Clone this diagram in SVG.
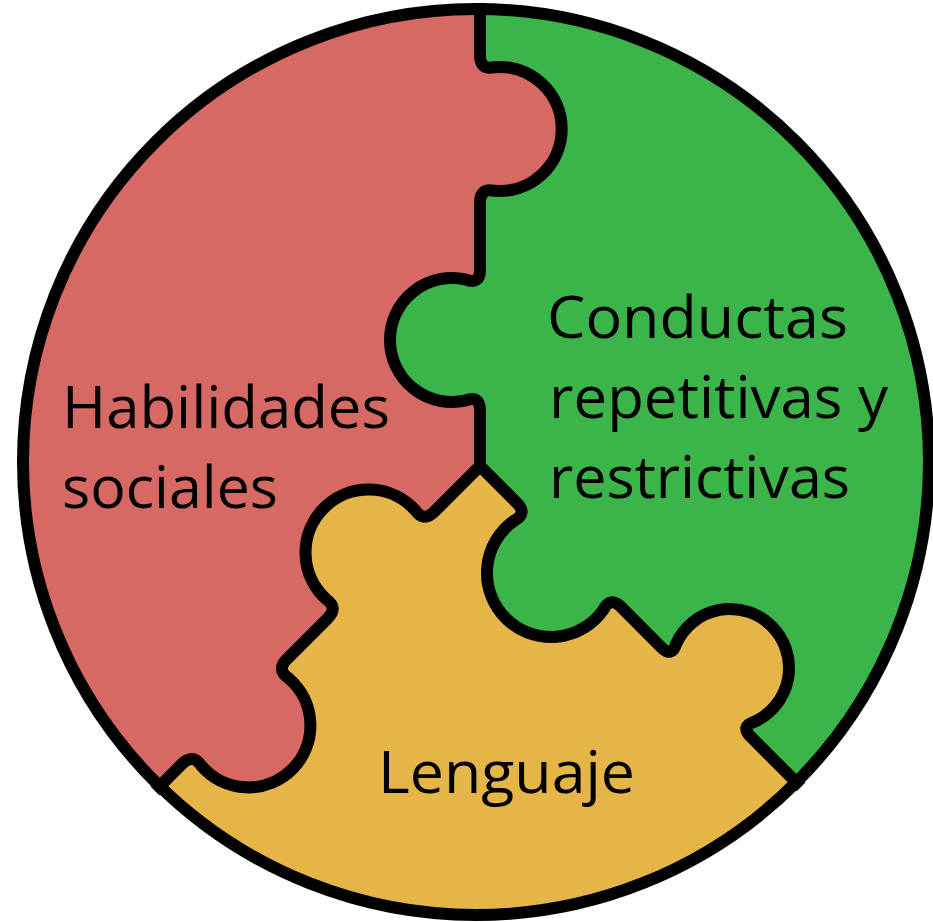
<svg xmlns="http://www.w3.org/2000/svg" width="933" height="922" viewBox="0 0 933 922">
<style>
.lbl{font-family:"Open Sans","Noto Sans","DejaVu Sans",sans-serif;font-size:59px;fill:#000}
.edge{fill:none;stroke:#000;stroke-width:12;stroke-linejoin:round;stroke-linecap:butt}
</style>
<rect width="933" height="922" fill="#fff"/>
<g id="lenguaje">
<path fill="#E6B548" d="M480,466 L434.2,511.8 Q423.6,522.4 415.1,510.1 A63 63 0 1 0 326.1,599.1 Q338.4,607.6 327.8,618.2 L286.8,659.2 Q276.2,669.8 288.6,678.2 A62 62 0 1 1 201.2,765.6 Q192.8,753.2 182.2,763.8 L159.7,786.3 A453 453 0 0 0 796.3,782.3 L750.8,736.8 Q740.2,726.2 754.4,721.7 A59 59 0 1 0 676.3,643.6 Q671.8,657.8 661.2,647.2 L621.1,607.1 Q610.5,596.5 603.5,609.6 A64 64 0 1 1 514.4,520.5 Q527.5,513.5 516.9,502.9 Z"/>
<text class="lbl" x="378" y="793" textLength="257" lengthAdjust="spacingAndGlyphs">Lenguaje</text>
</g>
<g id="habilidades">
<path fill="#D76964" d="M480,9 L480,55.3 Q480,70.3 494.7,67.2 A62 62 0 1 1 494.7,190.8 Q480,187.7 480,202.7 L480,269.7 Q480,284.7 466,279.6 A62 62 0 1 0 466,400.4 Q480,395.3 480,410.3 L480,466 L434.2,511.8 Q423.6,522.4 415.1,510.1 A63 63 0 1 0 326.1,599.1 Q338.4,607.6 327.8,618.2 L286.8,659.2 Q276.2,669.8 288.6,678.2 A62 62 0 1 1 201.2,765.6 Q192.8,753.2 182.2,763.8 L159.7,786.3 A453 453 0 0 1 480,9 Z"/>
<text class="lbl" x="62" y="428" textLength="328" lengthAdjust="spacingAndGlyphs">Habilidades</text>
<text class="lbl" x="62" y="508" textLength="216" lengthAdjust="spacingAndGlyphs">sociales</text>
</g>
<g id="conductas">
<path fill="#3BB54A" d="M480,9 L480,55.3 Q480,70.3 494.7,67.2 A62 62 0 1 1 494.7,190.8 Q480,187.7 480,202.7 L480,269.7 Q480,284.7 466,279.6 A62 62 0 1 0 466,400.4 Q480,395.3 480,410.3 L480,466 L516.9,502.9 Q527.5,513.5 514.4,520.5 A64 64 0 1 0 603.5,609.6 Q610.5,596.5 621.1,607.1 L661.2,647.2 Q671.8,657.8 676.3,643.6 A59 59 0 1 1 754.4,721.7 Q740.2,726.2 750.8,736.8 L796.3,782.3 A453 453 0 0 0 480,9 Z"/>
<text class="lbl" x="547" y="338" textLength="301" lengthAdjust="spacingAndGlyphs">Conductas</text>
<text class="lbl" x="549" y="418" textLength="339" lengthAdjust="spacingAndGlyphs">repetitivas y</text>
<text class="lbl" x="549" y="498" textLength="301" lengthAdjust="spacingAndGlyphs">restrictivas</text>
</g>
<g id="connectors">
<path class="edge" d="M480,3 L480,55.3 Q480,70.3 494.7,67.2 A62 62 0 1 1 494.7,190.8 Q480,187.7 480,202.7 L480,269.7 Q480,284.7 466,279.6 A62 62 0 1 0 466,400.4 Q480,395.3 480,410.3 L480,466"/>
<path class="edge" d="M480,466 L434.2,511.8 Q423.6,522.4 415.1,510.1 A63 63 0 1 0 326.1,599.1 Q338.4,607.6 327.8,618.2 L286.8,659.2 Q276.2,669.8 288.6,678.2 A62 62 0 1 1 201.2,765.6 Q192.8,753.2 182.2,763.8 L155,791"/>
<path class="edge" d="M480,466 L516.9,502.9 Q527.5,513.5 514.4,520.5 A64 64 0 1 0 603.5,609.6 Q610.5,596.5 621.1,607.1 L661.2,647.2 Q671.8,657.8 676.3,643.6 A59 59 0 1 1 754.4,721.7 Q740.2,726.2 750.8,736.8 L801,787"/>
<circle class="edge" cx="476" cy="462" r="453"/>
</g>
</svg>
